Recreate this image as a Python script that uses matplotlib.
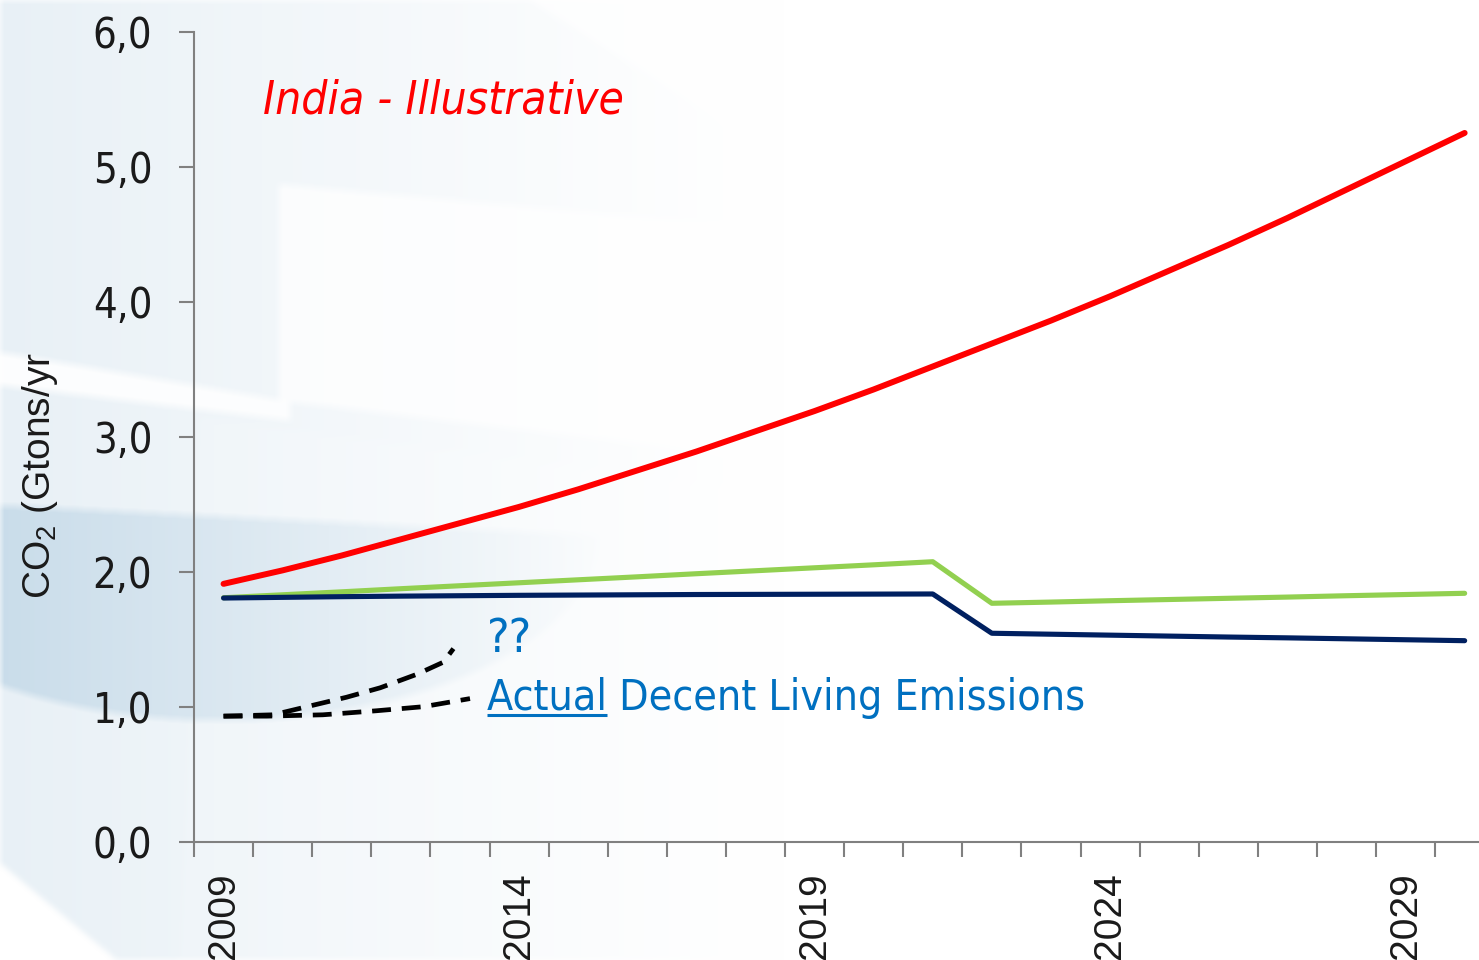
import numpy as np
import matplotlib
matplotlib.use("Agg")
import matplotlib.pyplot as plt
from matplotlib.lines import Line2D
from matplotlib.ticker import FixedLocator, NullFormatter, FixedFormatter

# ---- data -------------------------------------------------------------
years = list(range(2009, 2031))
year_labels = ["2009", "2014", "2019", "2024", "2029"]

# business-as-usual emissions (Gt CO2 / yr)
india_bau = [1.91, 2.01, 2.12, 2.24, 2.36, 2.48, 2.61, 2.75, 2.89, 3.04, 3.19,
             3.35, 3.52, 3.69, 3.86, 4.04, 4.23, 4.42, 4.62, 4.83, 5.04, 5.25]
# policy scenario (green)
policy_high = [1.807, 1.829, 1.851, 1.874, 1.896, 1.918, 1.940, 1.962, 1.985, 2.007, 2.029,
               2.051, 2.074, 1.766, 1.775, 1.785, 1.794, 1.803, 1.812, 1.822, 1.831, 1.840]
# policy scenario (navy)
policy_low = [1.805, 1.810, 1.815, 1.819, 1.822, 1.825, 1.827, 1.829, 1.831, 1.832, 1.833,
              1.834, 1.835, 1.544, 1.537, 1.530, 1.523, 1.516, 1.510, 1.503, 1.496, 1.489]

# hand-sketched ranges for actual decent-living emissions (x in years from 2009)
dle_upper_x = [0.0, 0.84, 1.41, 2.08, 2.65, 3.27, 3.72, 3.89]
dle_upper_y = [0.93, 0.94, 1.00, 1.07, 1.14, 1.24, 1.33, 1.43]
dle_lower_x = [0.0, 0.73, 1.68, 2.59, 3.38, 4.17]
dle_lower_y = [0.93, 0.93, 0.94, 0.97, 1.00, 1.06]

y_ticks = [0, 1, 2, 3, 4, 5, 6]
y_tick_labels = ["0,0", "1,0", "2,0", "3,0", "4,0", "5,0", "6,0"]

# ---- figure -----------------------------------------------------------
W, H = 1479, 960
fig = plt.figure(figsize=(W / 100, H / 100), dpi=100)
fig.patch.set_facecolor("white")

NARROW = dict(family=["DejaVu Sans"], stretch="condensed")
SANS = ["Liberation Sans", "DejaVu Sans"]
plt.rcParams["mathtext.fontset"] = "custom"
plt.rcParams["mathtext.rm"] = "Liberation Sans"
plt.rcParams["mathtext.it"] = "Liberation Sans:italic"

# ---- decorative pale-blue backdrop ----------------------------------
yy, xx = np.mgrid[0:H, 0:W].astype(float)
fade = np.clip(1 - xx / 780, 0, 1) ** 1.2
t = 0.32 * fade
# diagonal top-right cut
t[yy < (xx - 530) * 0.63] *= 0.3
# light panel upper middle
panel1 = (xx > 278) & (yy > 184 + 0.09 * (xx - 278)) & (yy < 400 + 0.12 * (xx - 278))
t[panel1] *= 0.25
# white diagonal stripe
stripe = (yy > 352 + 0.17 * xx) & (yy < 385 + 0.12 * xx) & (xx < 290)
t[stripe] = 0.03
# second panel (lower)
panel2 = (xx > 200 - 0.04 * (yy - 418)) & (yy > 418 + 0.13 * (xx - 200))
t[panel2] = t[panel2] * 0.9
# darker swoosh
ell = ((xx - 220) / 380) ** 2 + ((yy - 530) / 190) ** 2 < 1
sw = ell & (yy > 505 + 0.05 * xx)
t[sw] = np.maximum(t[sw], 0.75 * np.clip(1 - xx[sw] / 640, 0, 1) ** 0.9)
# white corner lower left
t[yy > 863 + 0.83 * xx] = 0.0


def box_blur(a, k):
    ker = np.ones(k) / k
    a = np.apply_along_axis(lambda r: np.convolve(r, ker, mode="same"), 1, a)
    a = np.apply_along_axis(lambda c: np.convolve(c, ker, mode="same"), 0, a)
    return a


t = box_blur(t, 9)
blue = np.array([0.72, 0.82, 0.89])
img = 1 - t[..., None] * (1 - blue)[None, None, :]

bg = fig.add_axes([0, 0, 1, 1], zorder=0)
bg.imshow(img, extent=[0, W, H, 0], aspect="auto", interpolation="bilinear")
bg.set_xlim(0, W)
bg.set_ylim(H, 0)
bg.axis("off")

# ---- main axes -------------------------------------------------------
x0, x1 = 194, 194 + 22 * 59.1
ytop, ybot = 31.7, 841.7
ax = fig.add_axes([x0 / W, (H - ybot) / H, (x1 - x0) / W, (ybot - ytop) / H], zorder=1)
ax.patch.set_alpha(0)

idx = np.arange(len(years))
ax.plot(idx, policy_high, color="#92D050", lw=3.7, solid_capstyle="round",
        solid_joinstyle="round", zorder=3)
ax.plot(idx, policy_low, color="#002060", lw=3.7, solid_capstyle="round",
        solid_joinstyle="round", zorder=4)
ax.plot(idx, india_bau, color="#FF0000", lw=4.3, solid_capstyle="round",
        solid_joinstyle="round", zorder=5)

dash = (0, (4.0, 2.3))
ax.plot(dle_upper_x, dle_upper_y, color="black", lw=3.4, ls=dash, zorder=6)
ax.plot(dle_lower_x, dle_lower_y, color="black", lw=3.4, ls=dash, zorder=6)

ax.set_xlim(-0.5, len(years) - 0.5)
ax.set_ylim(0, 6)

for s in ["top", "right"]:
    ax.spines[s].set_visible(False)
for s in ["left", "bottom"]:
    ax.spines[s].set_color("#808080")
    ax.spines[s].set_linewidth(1.5)

ax.set_yticks(y_ticks)
ax.set_yticklabels(y_tick_labels, fontsize=30, **NARROW)
ax.tick_params(axis="y", length=11, width=1.5, color="#808080", pad=19, labelcolor="#1a1a1a")

# category boundaries carry tick marks, category centres carry the labels
ax.xaxis.set_major_locator(FixedLocator(np.arange(-0.5, len(years) + 0.5, 1.0)))
ax.xaxis.set_major_formatter(NullFormatter())
label_pos = [years.index(int(l)) for l in year_labels]
ax.xaxis.set_minor_locator(FixedLocator(label_pos))
ax.xaxis.set_minor_formatter(FixedFormatter(year_labels))
ax.tick_params(axis="x", which="major", length=11, width=1.5, color="#808080", direction="out")
ax.tick_params(axis="x", which="minor", length=0, pad=22, labelsize=28, labelrotation=90,
               labelcolor="#1a1a1a")
for lab in ax.get_xticklabels(minor=True):
    lab.set_family(SANS)

# ---- texts -----------------------------------------------------------
fig.text(40 / W, 1 - 476 / H, r"CO$_2$ (Gtons/yr", rotation=90, ha="center", va="center",
         fontsize=28, family=SANS, color="#1a1a1a", zorder=5)

fig.text(263 / W, 1 - 113 / H, "India - Illustrative", color="#FF0000", fontsize=33,
         style="italic", ha="left", va="baseline", zorder=5, **NARROW)

blue_txt = "#0070C0"
fig.text(487 / W, 1 - 652 / H, "??", color=blue_txt, fontsize=34,
         ha="left", va="baseline", zorder=5, **NARROW)
fig.text(487 / W, 1 - 710 / H, "Actual Decent Living Emissions", color=blue_txt,
         fontsize=30.7, ha="left", va="baseline", zorder=5, **NARROW)

fig.canvas.draw()
renderer = fig.canvas.get_renderer()
probe = fig.text(487 / W, 1 - 710 / H, "Actual", fontsize=30.7,
                 ha="left", va="baseline", **NARROW)
pb = probe.get_window_extent(renderer)
probe.remove()
uy = H - 715
fig.add_artist(Line2D([pb.x0, pb.x1], [uy, uy], transform=None, color=blue_txt, lw=2.2,
                      solid_capstyle="butt", zorder=5))

fig.savefig("out.png", dpi=100)
